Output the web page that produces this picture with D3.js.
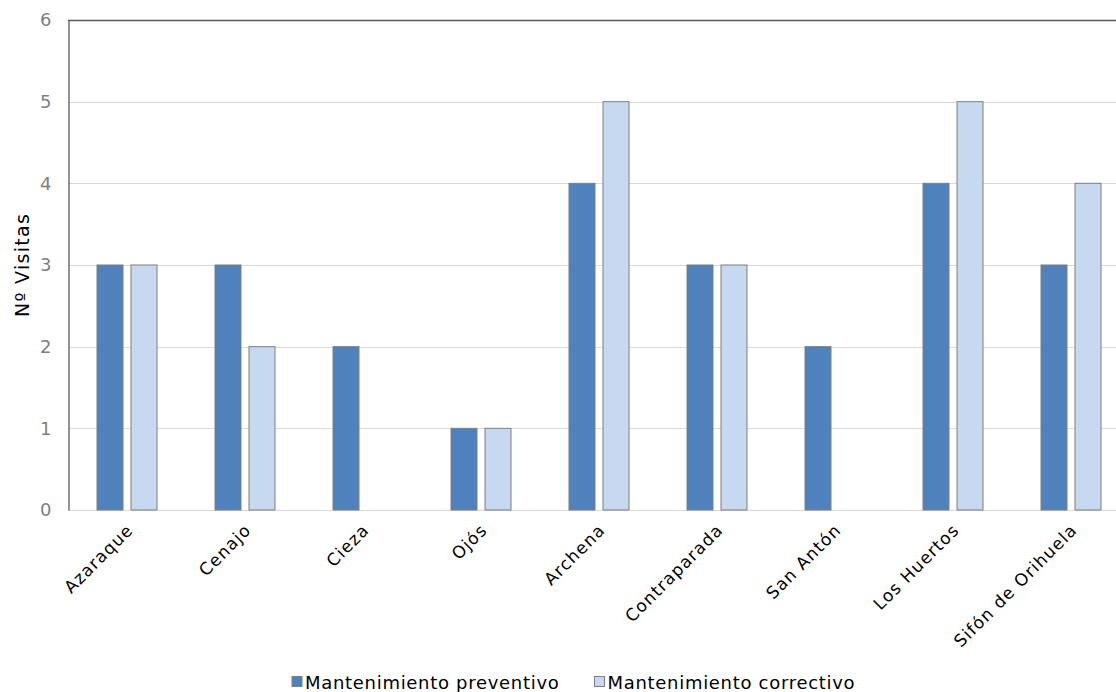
<!DOCTYPE html>
<html>
<head>
<meta charset="utf-8">
<script src="https://cdn.jsdelivr.net/npm/d3@7"></script>
<style>
  body { margin: 0; background: #fff; }
  svg { display: block; font-family: Verdana, "DejaVu Sans", sans-serif; }
</style>
</head>
<body>
<script>
const categories = ['Azaraque', 'Cenajo', 'Cieza', 'Ojós', 'Archena', 'Contraparada', 'San Antón', 'Los Huertos', 'Sifón de Orihuela']
const seriesNames = ['Mantenimiento preventivo', 'Mantenimiento correctivo']
const preventivo = [3, 3, 2, 1, 4, 3, 2, 4, 3]
const correctivo = [3, 2, 0, 1, 5, 3, 0, 5, 4]
const yTicks = [0, 1, 2, 3, 4, 5, 6]

const colors = ['#4f81bd', '#c6d9f0']
const width = 1116
const height = 692
const margin = { top: 20, right: -14, bottom: 182, left: 68 }

const svg = d3.select('body').append('svg').attr('width', width).attr('height', height)

const x = d3.scaleBand().domain(categories).range([margin.left, width - margin.right])
const x1 = d3.scaleBand().domain(seriesNames).range([-30, 30]).paddingInner(8 / 34)
const y = d3.scaleLinear().domain([0, 6]).range([height - margin.bottom, margin.top])

// gridlines
svg.append('g')
  .selectAll('line')
  .data(yTicks)
  .join('line')
  .attr('x1', margin.left)
  .attr('x2', width - margin.right)
  .attr('y1', (d) => Math.round(y(d)) + 0.5)
  .attr('y2', (d) => Math.round(y(d)) + 0.5)
  .attr('stroke', (d) => (d === 6 ? '#595959' : '#d9d9d9'))
  .attr('stroke-width', (d) => (d === 6 ? 1.3 : 1))

// left axis
const yAxis = svg.append('g')
  .attr('transform', `translate(${margin.left + 0.5},0)`)
  .call(d3.axisLeft(y).tickValues(yTicks).tickFormat(d3.format('d')).tickSize(0).tickPadding(17))
yAxis.select('.domain').attr('stroke', '#595959').attr('stroke-width', 1.3)
yAxis.selectAll('text')
  .attr('fill', '#7f7f7f')
  .attr('font-size', 18)
  .attr('font-family', 'Verdana, DejaVu Sans, sans-serif')

// bars
const rows = categories.map((c, i) => ({ cat: c, values: [preventivo[i], correctivo[i]] }))
svg.append('g')
  .selectAll('g')
  .data(rows)
  .join('g')
  .attr('transform', (d) => `translate(${x(d.cat) + x.bandwidth() / 2},0)`)
  .selectAll('rect')
  .data((d) => d.values.map((v, j) => ({ v, name: seriesNames[j], j })).filter((e) => e.v > 0))
  .join('rect')
  .attr('x', (d) => x1(d.name))
  .attr('width', x1.bandwidth())
  .attr('y', (d) => y(d.v))
  .attr('height', (d) => y(0) - y(d.v))
  .attr('fill', (d) => colors[d.j])
  .attr('stroke', '#7f7f7f')
  .attr('stroke-width', 1)

// category labels
svg.append('g')
  .selectAll('text')
  .data(categories)
  .join('text')
  .attr('transform', (d) => `translate(${x(d) + x.bandwidth() / 2 + 3},${y(0) + 17}) rotate(-45)`)
  .attr('text-anchor', 'end')
  .attr('dy', '0.35em')
  .attr('font-size', 17)
  .attr('letter-spacing', 1.1)
  .attr('fill', '#000')
  .text((d) => d)

// y title
svg.append('text')
  .attr('transform', `translate(29,${(y(0) + y(6)) / 2}) rotate(-90)`)
  .attr('text-anchor', 'middle')
  .attr('font-size', 19)
  .attr('letter-spacing', 1.3)
  .attr('fill', '#000')
  .text('Nº Visitas')

// legend
const legend = svg.append('g').attr('transform', `translate(0,${height - 3})`)
const items = legend.selectAll('g').data(seriesNames).join('g')
items.append('rect')
  .attr('y', -12.5)
  .attr('width', 10)
  .attr('height', 10)
  .attr('fill', (d, i) => colors[i])
  .attr('stroke', '#7f7f7f')
items.append('text')
  .attr('x', 13)
  .attr('font-size', 18)
  .attr('letter-spacing', 0.7)
  .attr('fill', '#000')
  .text((d) => d)
let lx = 292
items.each(function() {
  d3.select(this).attr('transform', `translate(${lx},0)`)
  lx += 13 + d3.select(this).select('text').node().getComputedTextLength() + 35
})
</script>
</body>
</html>
